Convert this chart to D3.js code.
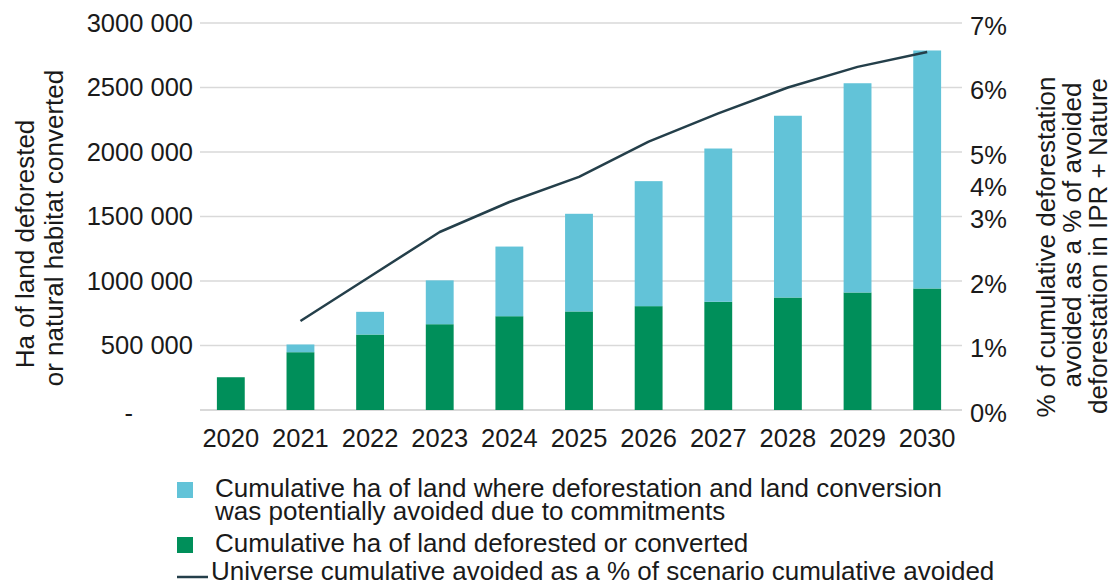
<!DOCTYPE html>
<html>
<head>
<meta charset="utf-8">
<script src="https://cdn.jsdelivr.net/npm/d3@7"></script>
<style>
  html, body { margin: 0; padding: 0; background: #fff; }
  svg text { font-family: "Liberation Sans", Arial, sans-serif; fill: #1a1a1a; }
</style>
</head>
<body>
<svg id="chart" width="1115" height="587"></svg>
<script>
// Years on the category axis
const years = ["2020","2021","2022","2023","2024","2025","2026","2027","2028","2029","2030"];
// Cumulative ha deforested or converted
const deforested = [254000, 448000, 585000, 665000, 727000, 764000, 805000, 839000, 872000, 911000, 942000];
// Cumulative ha where deforestation / conversion was potentially avoided
const avoided = [0, 60000, 176000, 340000, 540000, 757000, 969000, 1188000, 1409000, 1622000, 1845000];
// Universe cumulative avoided as a share of scenario cumulative avoided
const avoidedShare = [null, 0.0138, 0.0207, 0.0276, 0.0345, 0.0423, 0.0516, 0.0560, 0.0600, 0.0632, 0.0655];
// Axis ticks
const leftTicks = [0, 500000, 1000000, 1500000, 2000000, 2500000, 3000000];
const rightTicks = [0, 0.01, 0.02, 0.03, 0.04, 0.05, 0.06, 0.07];
// Where each right-axis tick sits, expressed on the left (hectare) axis
const rightTickOnLeft = [0, 500000, 1000000, 1500000, 1750000, 2000000, 2500000, 3000000];
// Legend entries
const legendItems = [
  { kind: "rect", color: "#62c3d8", lines: ["Cumulative ha of land where deforestation and land conversion", "was potentially avoided due to commitments"] },
  { kind: "rect", color: "#008f5a", lines: ["Cumulative ha of land deforested or converted"] },
  { kind: "line", color: "#243f4a", lines: ["Universe cumulative avoided as a % of scenario cumulative avoided"] }
];

const svg = d3.select("#chart");
const FONT = 25.5;
const TITLE_FONT = 26;

const x = d3.scaleBand().domain(years).range([196, 962]).paddingInner(0.6).paddingOuter(0.3);
const y = d3.scaleLinear().domain([0, 3000000]).range([410, 23]);
// Right axis: piecewise scale whose ticks line up with the left axis positions
const yR = d3.scaleLinear().domain(rightTicks).range(rightTickOnLeft.map(v => y(v)));

// Gridlines
svg.append("g").selectAll("line").data(leftTicks).join("line")
  .attr("x1", 200).attr("x2", 962)
  .attr("y1", d => y(d)).attr("y2", d => y(d))
  .attr("stroke", "#d9d9d9").attr("stroke-width", d => d === 0 ? 2 : 1.5);

// Stacked bars
const rows = years.map((yr, i) => ({ year: yr, deforested: deforested[i], avoided: avoided[i] }));
const stack = d3.stack().keys(["deforested", "avoided"])(rows);
const colors = { deforested: "#008f5a", avoided: "#62c3d8" };
svg.append("g").selectAll("g").data(stack).join("g")
  .attr("fill", d => colors[d.key])
  .selectAll("rect").data(d => d.filter(p => p[1] > p[0])).join("rect")
  .attr("x", d => x(d.data.year))
  .attr("width", x.bandwidth())
  .attr("y", d => y(d[1]))
  .attr("height", d => y(d[0]) - y(d[1]));

// Share line on the right axis
const line = d3.line()
  .defined(d => d.v !== null)
  .x(d => x(d.year) + x.bandwidth() / 2)
  .y(d => yR(d.v));
svg.append("path")
  .datum(years.map((yr, i) => ({ year: yr, v: avoidedShare[i] })))
  .attr("fill", "none").attr("stroke", "#243f4a").attr("stroke-width", 2.5)
  .attr("stroke-linejoin", "round")
  .attr("d", line);

// Left axis labels
const fmtLeft = d => {
  if (d === 0) return "-";
  const s = String(d);
  return s.slice(0, s.length - 3) + " " + s.slice(-3);
};
svg.append("g").selectAll("text").data(leftTicks).join("text")
  .attr("x", d => d === 0 ? 133 : 193)
  .attr("y", d => y(d) + (d === 0 ? 3 : 0))
  .attr("dy", "0.35em")
  .attr("text-anchor", "end")
  .attr("font-size", FONT)
  .text(fmtLeft);

// Right axis labels
svg.append("g").selectAll("text").data(rightTicks).join("text")
  .attr("x", 970)
  .attr("y", d => yR(d) + 3)
  .attr("dy", "0.35em")
  .attr("font-size", FONT)
  .text(d3.format(".0%"));

// Year labels
svg.append("g").selectAll("text").data(years).join("text")
  .attr("x", d => x(d) + x.bandwidth() / 2)
  .attr("y", 447)
  .attr("text-anchor", "middle")
  .attr("font-size", FONT)
  .text(d => d);

// Axis titles
const leftTitle = ["Ha of land deforested", "or natural habitat converted"];
const leftTitleMid = [244, 228];
svg.append("g").selectAll("text").data(leftTitle).join("text")
  .attr("transform", (d, i) => `translate(${34 + i * 29},${leftTitleMid[i]}) rotate(-90)`)
  .attr("text-anchor", "middle")
  .attr("font-size", TITLE_FONT)
  .text(d => d);

const rightTitle = ["% of cumulative deforestation", "avoided as a % of avoided", "deforestation in IPR + Nature"];
const rightTitleMid = [247, 235, 246];
svg.append("g").selectAll("text").data(rightTitle).join("text")
  .attr("transform", (d, i) => `translate(${1055 + i * 26},${rightTitleMid[i]}) rotate(-90)`)
  .attr("text-anchor", "middle")
  .attr("font-size", TITLE_FONT)
  .text(d => d);

// Legend
const legendY = [497, 552, 580];
const lg = svg.append("g");
legendItems.forEach((item, i) => {
  const by = legendY[i];
  const tx = item.kind === "rect" ? 215 : 211;
  if (item.kind === "rect") {
    lg.append("rect").attr("x", 177).attr("y", by - 15).attr("width", 16).attr("height", 16).attr("fill", item.color);
  } else {
    lg.append("line").attr("x1", 177).attr("x2", 208).attr("y1", by - 3).attr("y2", by - 3)
      .attr("stroke", item.color).attr("stroke-width", 2.5);
  }
  item.lines.forEach((ln, j) => {
    lg.append("text").attr("x", tx).attr("y", by + j * 23).attr("font-size", TITLE_FONT).text(ln);
  });
});
</script>
</body>
</html>
